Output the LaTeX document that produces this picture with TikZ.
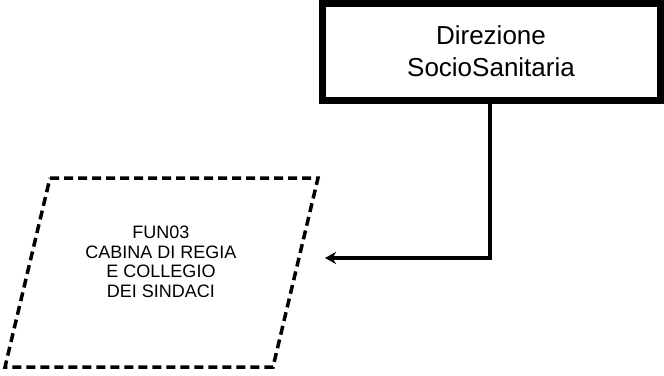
\documentclass[tikz,border=0pt]{standalone}
\usepackage{fontspec}
\setmainfont{Liberation Sans}
\usetikzlibrary{arrows.meta}
\usetikzlibrary{positioning}

\tikzset{
  dirbox/.style={rectangle,draw=black,line width=7pt,fill=white,minimum width=338pt,minimum height=97pt,align=center,font=\fontsize{26}{32}\selectfont},
  funbox/.style={draw=black,line width=3.5pt,dash pattern=on 9pt off 5pt},
  funtext/.style={align=center,font=\fontsize{18}{19.5}\selectfont},
  conn/.style={draw=black,line width=3.5pt,-{Stealth[length=11pt,width=12pt]}}
}

\begin{document}
\begin{tikzpicture}[x=1pt,y=-1pt]
\useasboundingbox (0,0) rectangle (664,375);

\node[dirbox] (dir) at (491,51.5) {Direzione\\SocioSanitaria};

\draw[funbox] (50,178) -- (318,178) -- (273,367) -- (5,367) -- cycle;
\node[funtext] (fun) at (161,262) {FUN03\\CABINA DI REGIA\\E COLLEGIO\\DEI SINDACI};

\coordinate (tip) at (325,258);
\draw[conn] (dir.south -| 490,0) |- (tip);

\end{tikzpicture}
\end{document}
